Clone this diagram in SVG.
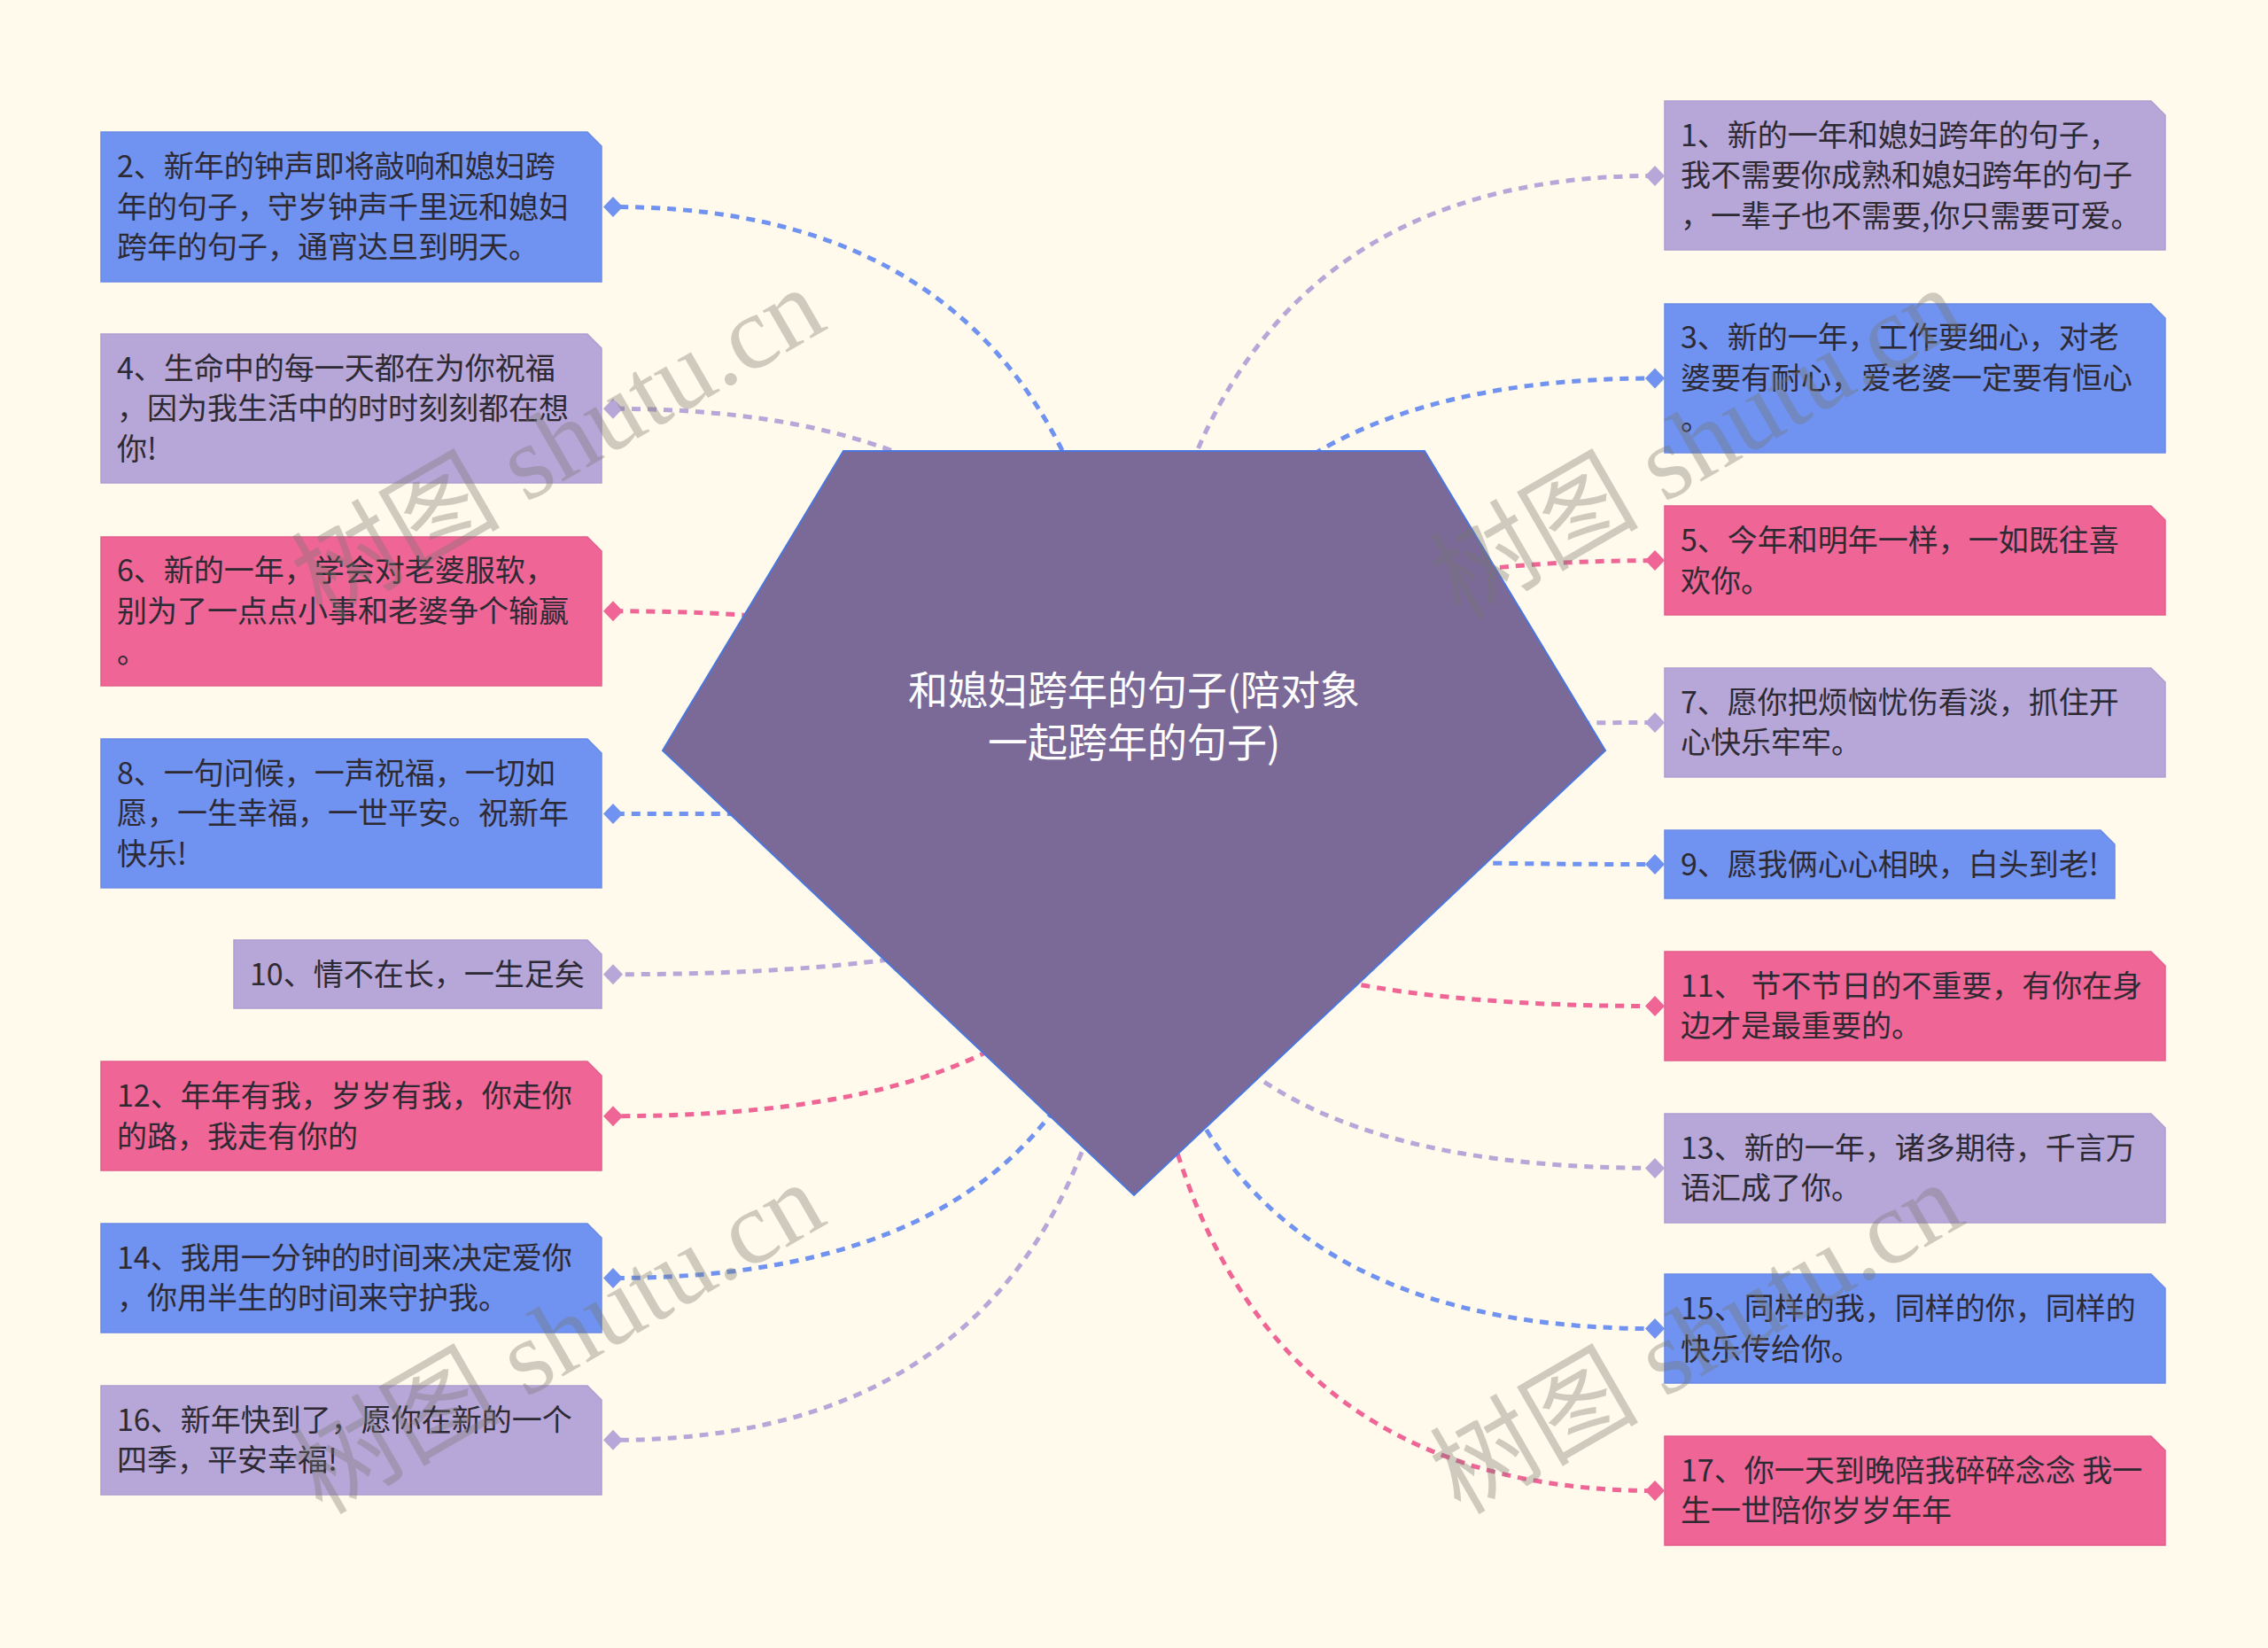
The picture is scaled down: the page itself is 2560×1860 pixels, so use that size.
<svg xmlns="http://www.w3.org/2000/svg" width="2560" height="1860" viewBox="0 0 2560 1860">
<defs>
<style>
.bg{fill:#FFFAEB}
.blue{fill:#7092F0;stroke:#6A8BE6;stroke-width:1.5}
.lav{fill:#B7A6D8;stroke:#AE9DD0;stroke-width:1.5}
.pink{fill:#EE6596;stroke:#E45D8D;stroke-width:1.5}
.t{font-family:"Noto Sans CJK SC","Noto Sans",sans-serif;font-size:34px;fill:#2E2A33}
.ct{font-family:"Noto Sans CJK SC","Noto Sans",sans-serif;font-size:45px;fill:#FFFFFF;text-anchor:middle}
.c{fill:none;stroke-width:5;stroke-dasharray:10 8}
.cb{stroke:#7092F0;marker-end:url(#mb)}
.cl{stroke:#B7A6D8;marker-end:url(#ml)}
.cp{stroke:#EE6596;marker-end:url(#mp)}
.wm{font-family:"Liberation Serif","Noto Sans CJK SC",serif;font-size:118px;fill:#78786E;fill-opacity:0.36;text-anchor:middle}
</style>
<marker id="mb" viewBox="-12 -12 24 24" markerUnits="userSpaceOnUse" markerWidth="24" markerHeight="24" refX="0" refY="0" orient="auto"><path d="M-11 0L0-11.5L11 0L0 11.5Z" fill="#7092F0"/></marker>
<marker id="ml" viewBox="-12 -12 24 24" markerUnits="userSpaceOnUse" markerWidth="24" markerHeight="24" refX="0" refY="0" orient="auto"><path d="M-11 0L0-11.5L11 0L0 11.5Z" fill="#B7A6D8"/></marker>
<marker id="mp" viewBox="-12 -12 24 24" markerUnits="userSpaceOnUse" markerWidth="24" markerHeight="24" refX="0" refY="0" orient="auto"><path d="M-11 0L0-11.5L11 0L0 11.5Z" fill="#EE6596"/></marker>
</defs>
<rect class="bg" x="0" y="0" width="2560" height="1860"/>

<g id="connectors">
<path class="c cb" d="M1280 929Q1280 233.5 692 233.5"/>
<path class="c cl" d="M1280 929Q1280 461.3 692 461.3"/>
<path class="c cp" d="M1280 929Q1280 689.8 692 689.8"/>
<path class="c cb" d="M1280 929Q1280 918.4 692 918.4"/>
<path class="c cl" d="M1280 929Q1280 1099.7 692 1099.7"/>
<path class="c cp" d="M1280 929Q1280 1259.7 692 1259.7"/>
<path class="c cb" d="M1280 929Q1280 1442.5 692 1442.5"/>
<path class="c cl" d="M1280 929Q1280 1625.3 692 1625.3"/>
<path class="c cl" d="M1280 929Q1280 198.4 1868 198.4"/>
<path class="c cb" d="M1280 929Q1280 427 1868 427"/>
<path class="c cp" d="M1280 929Q1280 632.6 1868 632.6"/>
<path class="c cl" d="M1280 929Q1280 815.5 1868 815.5"/>
<path class="c cb" d="M1280 929Q1280 975.5 1868 975.5"/>
<path class="c cp" d="M1280 929Q1280 1135.5 1868 1135.5"/>
<path class="c cl" d="M1280 929Q1280 1318.4 1868 1318.4"/>
<path class="c cb" d="M1280 929Q1280 1499.6 1868 1499.6"/>
<path class="c cp" d="M1280 929Q1280 1682.5 1868 1682.5"/>
</g>

<g id="root">
<path d="M952 509H1608L1812 847L1280 1349L748 847Z" fill="#7B6A98" stroke="#4A76DE" stroke-width="2"/>
<text class="ct" x="1280" y="796">和媳妇跨年的句子(陪对象</text>
<text class="ct" x="1280" y="855">一起跨年的句子)</text>
</g>

<g id="n2"><path class="blue" d="M114 149H663L679 165V318H114Z"/>
<text class="t" x="132" y="199.8">2、新年的钟声即将敲响和媳妇跨</text>
<text class="t" x="132" y="245.5">年的句子，守岁钟声千里远和媳妇</text>
<text class="t" x="132" y="291.2">跨年的句子，通宵达旦到明天。</text></g>

<g id="n4"><path class="lav" d="M114 377H663L679 393V545H114Z"/>
<text class="t" x="132" y="427.6">4、生命中的每一天都在为你祝福</text>
<text class="t" x="132" y="473.3">，因为我生活中的时时刻刻都在想</text>
<text class="t" x="132" y="519">你!</text></g>

<g id="n6"><path class="pink" d="M114 606H663L679 622V774H114Z"/>
<text class="t" x="132" y="656.1">6、新的一年，学会对老婆服软，</text>
<text class="t" x="132" y="701.8">别为了一点点小事和老婆争个输赢</text>
<text class="t" x="132" y="747.5">。</text></g>

<g id="n8"><path class="blue" d="M114 834H663L679 850V1002H114Z"/>
<text class="t" x="132" y="884.7">8、一句问候，一声祝福，一切如</text>
<text class="t" x="132" y="930.4">愿，一生幸福，一世平安。祝新年</text>
<text class="t" x="132" y="976.1">快乐!</text></g>

<g id="n10"><path class="lav" d="M264 1061H663L679 1077V1138H264Z"/>
<text class="t" x="282" y="1111.7">10、情不在长，一生足矣</text></g>

<g id="n12"><path class="pink" d="M114 1198H663L679 1214V1321H114Z"/>
<text class="t" x="132" y="1248.9">12、年年有我，岁岁有我，你走你</text>
<text class="t" x="132" y="1294.6">的路，我走有你的</text></g>

<g id="n14"><path class="blue" d="M114 1381H663L679 1397V1504H114Z"/>
<text class="t" x="132" y="1431.7">14、我用一分钟的时间来决定爱你</text>
<text class="t" x="132" y="1477.4">，你用半生的时间来守护我。</text></g>

<g id="n16"><path class="lav" d="M114 1564H663L679 1580V1687H114Z"/>
<text class="t" x="132" y="1614.5">16、新年快到了，愿你在新的一个</text>
<text class="t" x="132" y="1660.2">四季，平安幸福!</text></g>

<g id="n1"><path class="lav" d="M1879 114H2428L2444 130V282H1879Z"/>
<text class="t" x="1897" y="164.7">1、新的一年和媳妇跨年的句子，</text>
<text class="t" x="1897" y="210.4">我不需要你成熟和媳妇跨年的句子</text>
<text class="t" x="1897" y="256.1">，一辈子也不需要,你只需要可爱。</text></g>

<g id="n3"><path class="blue" d="M1879 343H2428L2444 359V511H1879Z"/>
<text class="t" x="1897" y="393.3">3、新的一年，工作要细心，对老</text>
<text class="t" x="1897" y="439">婆要有耐心，爱老婆一定要有恒心</text>
<text class="t" x="1897" y="484.7">。</text></g>

<g id="n5"><path class="pink" d="M1879 571H2428L2444 587V694H1879Z"/>
<text class="t" x="1897" y="621.8">5、今年和明年一样，一如既往喜</text>
<text class="t" x="1897" y="667.5">欢你。</text></g>

<g id="n7"><path class="lav" d="M1879 754H2428L2444 770V877H1879Z"/>
<text class="t" x="1897" y="804.7">7、愿你把烦恼忧伤看淡，抓住开</text>
<text class="t" x="1897" y="850.4">心快乐牢牢。</text></g>

<g id="n9"><path class="blue" d="M1879 937H2371L2387 953V1014H1879Z"/>
<text class="t" x="1897" y="987.5">9、愿我俩心心相映，白头到老!</text></g>

<g id="n11"><path class="pink" d="M1879 1074H2428L2444 1090V1197H1879Z"/>
<text class="t" x="1897" y="1124.7">11、 节不节日的不重要，有你在身</text>
<text class="t" x="1897" y="1170.4">边才是最重要的。</text></g>

<g id="n13"><path class="lav" d="M1879 1257H2428L2444 1273V1380H1879Z"/>
<text class="t" x="1897" y="1307.6">13、新的一年，诸多期待，千言万</text>
<text class="t" x="1897" y="1353.3">语汇成了你。</text></g>

<g id="n15"><path class="blue" d="M1879 1438H2428L2444 1454V1561H1879Z"/>
<text class="t" x="1897" y="1488.8">15、同样的我，同样的你，同样的</text>
<text class="t" x="1897" y="1534.5">快乐传给你。</text></g>

<g id="n17"><path class="pink" d="M1879 1621H2428L2444 1637V1744H1879Z"/>
<text class="t" x="1897" y="1671.7">17、你一天到晚陪我碎碎念念 我一</text>
<text class="t" x="1897" y="1717.4">生一世陪你岁岁年年</text></g>

<g id="watermarks">
<text class="wm" transform="translate(650 535) rotate(-30)">树图 shutu.cn</text>
<text class="wm" transform="translate(1935 535) rotate(-30)">树图 shutu.cn</text>
<text class="wm" transform="translate(650 1545) rotate(-30)">树图 shutu.cn</text>
<text class="wm" transform="translate(1935 1545) rotate(-30)">树图 shutu.cn</text>
</g>
</svg>
